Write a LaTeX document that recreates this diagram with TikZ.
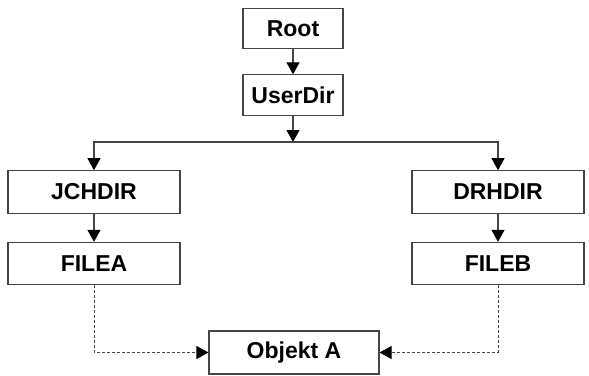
\documentclass[tikz,border=0pt]{standalone}
\usepackage{fontspec}
\setmainfont{Liberation Sans}
\definecolor{colline}{RGB}{70,70,70}
\usetikzlibrary{
	arrows.meta,
	positioning
}
\tikzset{
	>={Triangle[width=13pt,length=12pt,color=black]},
	dirnode/.style={draw=colline, line width=1.1pt, font=\fontsize{23}{26}\selectfont\bfseries, inner sep=0pt},
	smallnode/.style={dirnode, minimum width=100pt, minimum height=40.5pt},
	widenode/.style={dirnode, minimum width=172pt, minimum height=42.5pt},
	treeedge/.style={->, draw=colline, line width=1.1pt},
	linkedge/.style={->, draw=colline, line width=1pt, dash pattern=on 3pt off 2pt}
}
\begin{document}
\begin{tikzpicture}[x=1pt, y=-1pt]
	\useasboundingbox (0,0) rectangle (589,375);

	\node[smallnode] (root) at (293,28.5) {Root};
	\node[smallnode] (userdir) [below=25pt of root] {UserDir};
	\coordinate (split) at (293,142);

	\node[widenode] (jchdir) at (94,192) {JCHDIR};
	\node[widenode] (drhdir) at (498,192) {DRHDIR};
	\node[widenode] (filea) [below=28pt of jchdir] {FILEA};
	\node[widenode] (fileb) [below=28pt of drhdir] {FILEB};
	\node[widenode, minimum width=170pt, minimum height=43pt] (objekt) at (294,352.5) {Objekt A};

	\path[treeedge]
		(root) edge (userdir)
		(userdir) edge (split)
		(jchdir) edge (filea)
		(drhdir) edge (fileb)
	;

	\draw[treeedge] (split) -| (jchdir);
	\draw[treeedge] (split) -| (drhdir);

	\draw[linkedge] (filea) |- (objekt);
	\draw[linkedge] (fileb) |- (objekt);
\end{tikzpicture}
\end{document}
